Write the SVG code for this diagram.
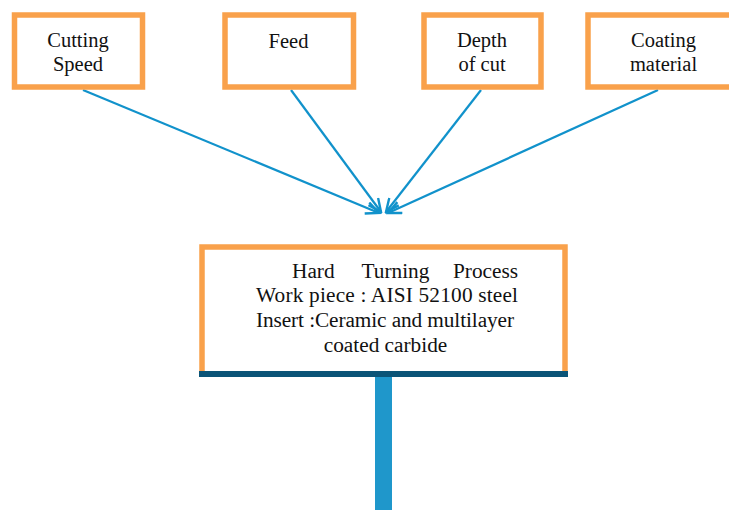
<svg xmlns="http://www.w3.org/2000/svg" width="729" height="510" viewBox="0 0 729 510">
<defs>
<style>
.box{fill:#fff;stroke:#F9A14B;stroke-width:5.5}
text{font-family:"Times New Roman",Times,"Liberation Serif",Tinos,"Noto Serif","DejaVu Serif",serif}
.t{font-size:20.5px;fill:#111;text-anchor:middle}
.b{font-size:21.3px;fill:#111}
.c{stroke:#1192CB;stroke-width:2.2;fill:none;marker-end:url(#ah)}
</style>
<marker id="ah" markerWidth="16" markerHeight="14" refX="14" refY="7" orient="auto" markerUnits="userSpaceOnUse">
<path d="M1,1 L14,7 L1,13" fill="none" stroke="#1192CB" stroke-width="2.4"/>
</marker>
</defs>
<rect width="729" height="510" fill="#fff"/>
<g id="connectors">
<line class="c" x1="83" y1="90" x2="379" y2="213"/>
<line class="c" x1="291" y1="90" x2="381" y2="212"/>
<line class="c" x1="481" y1="90" x2="386" y2="212"/>
<line class="c" x1="658" y1="90" x2="388" y2="213"/>
</g>
<g id="cutting-speed">
<rect class="box" x="14.5" y="15" width="128" height="72"/>
<text class="t" x="78" y="47">Cutting</text>
<text class="t" x="78" y="71">Speed</text>
</g>
<g id="feed">
<rect class="box" x="225" y="15" width="128.5" height="72"/>
<text class="t" x="288.5" y="48">Feed</text>
</g>
<g id="depth-of-cut">
<rect class="box" x="424" y="15" width="117" height="72"/>
<text class="t" x="482" y="47">Depth</text>
<text class="t" x="482" y="71">of cut</text>
</g>
<g id="coating-material">
<rect class="box" x="588" y="15" width="150" height="72"/>
<text class="t" x="663.5" y="47">Coating</text>
<text class="t" x="663.5" y="71">material</text>
</g>
<g id="process">
<rect class="box" x="202" y="247" width="363" height="127" stroke-width="6"/>
<rect x="199" y="371" width="369" height="6" fill="#0B5477"/>
<text class="b" x="292" y="278">Hard</text>
<text class="b" x="361.5" y="278">Turning</text>
<text class="b" x="453" y="278">Process</text>
<text class="b" x="256" y="302" textLength="262" lengthAdjust="spacing">Work piece : AISI 52100 steel</text>
<text class="b" x="256" y="327" textLength="258" lengthAdjust="spacing">Insert :Ceramic and multilayer</text>
<text class="b" x="385.5" y="352" text-anchor="middle">coated carbide</text>
</g>
<g id="stem">
<rect x="375" y="377" width="17" height="133" fill="#1F97CB"/>
</g>
</svg>
